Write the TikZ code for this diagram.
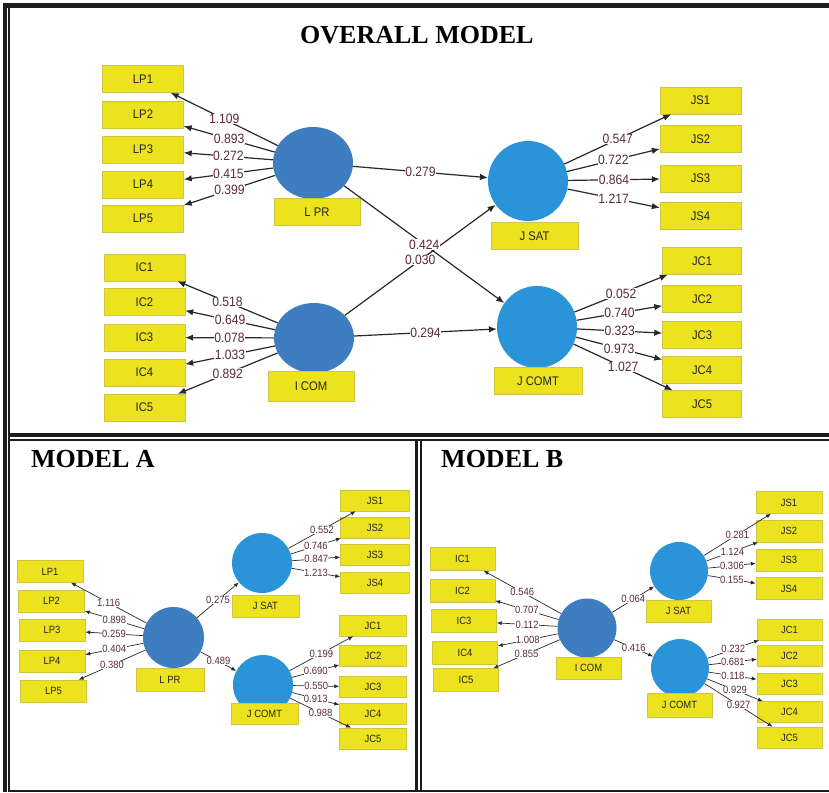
\documentclass[tikz,border=0pt]{standalone}
\usepackage{fontspec}
\setmainfont{Liberation Serif}
\newfontfamily\lblfont[FakeStretch=0.9]{Liberation Sans}
\usetikzlibrary{arrows.meta,shapes.geometric}
\definecolor{boxyel}{RGB}{236,226,30}
\definecolor{boxedge}{RGB}{208,198,70}
\definecolor{latdark}{RGB}{62,126,192}
\definecolor{latlight}{RGB}{43,147,216}
\definecolor{coef}{RGB}{92,42,62}
\definecolor{linec}{RGB}{40,40,40}
\definecolor{framec}{RGB}{28,28,28}
\tikzset{
  ind/.style={rectangle, fill=boxyel, draw=boxedge, line width=0.4pt, inner sep=0pt, text=black!85},
  indT/.style={ind, minimum width=81pt, minimum height=27pt, font=\lblfont\fontsize{12.5}{14}\selectfont},
  indS/.style={ind, minimum width=66pt, minimum height=22pt, font=\lblfont\fontsize{10.5}{12}\selectfont},
  latD/.style={ellipse, fill=latdark, inner sep=0pt},
  latL/.style={ellipse, fill=latlight, inner sep=0pt},
  arrT/.style={draw=linec, line width=1.2pt, -{Latex[length=8pt,width=6.5pt]}},
  arrS/.style={draw=linec, line width=0.7pt, -{Latex[length=5pt,width=4pt]}},
  labT/.style={midway, fill=white, inner sep=0.5pt, text=coef, font=\lblfont\fontsize{13.5}{14}\selectfont},
  labS/.style={midway, fill=white, inner sep=0.4pt, text=coef, font=\lblfont\fontsize{10.5}{12}\selectfont},
  ttl/.style={font=\bfseries\fontsize{26}{28}\selectfont, inner sep=0pt, anchor=base west},
}
\begin{document}
\begin{tikzpicture}[x=1pt,y=-1pt]
\useasboundingbox (0,0) rectangle (829,792);
% ---------- frame ----------
\fill[framec] (3.3,3.3) rectangle (7.3,792);
\fill[framec] (3.3,3.3) rectangle (829,8.3);
\fill[framec] (8.3,8.3) rectangle (10.4,792);
\fill[framec] (10.4,433) rectangle (829,437);
\fill[framec] (10.4,439) rectangle (829,441);
\fill[framec] (415,441) rectangle (417.5,792);
\fill[framec] (420,441) rectangle (422,792);
\fill[framec] (10.4,789.5) rectangle (829,792);
% ---------- titles ----------
\node[ttl] (t0) at (300,44) {OVERALL MODEL};
\node[ttl] (tA) at (31,467) {MODEL A};
\node[ttl] (tB) at (441,467) {MODEL B};
% ================= OVERALL MODEL =================
\node[latD,minimum width=80pt,minimum height=72pt] (LPR) at (313,163) {};
\node[latD,minimum width=80pt,minimum height=70pt] (ICOM) at (314,338) {};
\node[latL,minimum width=80pt,minimum height=80pt] (JSAT) at (528,181) {};
\node[latL,minimum width=80pt,minimum height=82pt] (JCOMT) at (537,327) {};
\node[indT,minimum width=86pt] (LPRb) at (317,212) {L PR};
\node[indT,minimum width=86pt,minimum height=30pt] (ICOMb) at (311,386.5) {I COM};
\node[indT,minimum width=87pt] (JSATb) at (534.5,236) {J SAT};
\node[indT,minimum width=88pt] (JCOMTb) at (538,381) {J COMT};
\foreach \i/\y in {1/79,2/114.5,3/149.5,4/184.5,5/218.5}
  \node[indT] (LP\i) at (143,\y) {LP\i};
\foreach \i/\y in {1/267.5,2/302,3/337.5,4/372.5,5/407.5}
  \node[indT] (IC\i) at (144.5,\y) {IC\i};
\foreach \i/\y in {1/100.5,2/139,3/178.5,4/216}
  \node[indT] (JS\i) at (700.5,\y) {JS\i};
\foreach \i/\y in {1/261,2/299,3/335,4/370,5/404}
  \node[indT,minimum width=79pt] (JC\i) at (702,\y) {JC\i};
\foreach \i/\v in {1/1.109,2/0.893,3/0.272,4/0.415,5/0.399}
  \draw[arrT] (LPR) -- (LP\i) node[labT] {\v};
\foreach \i/\v in {1/0.518,2/0.649,3/0.078,4/1.033,5/0.892}
  \draw[arrT] (ICOM) -- (IC\i) node[labT] {\v};
\foreach \i/\v in {1/0.547,2/0.722,3/0.864,4/1.217}
  \draw[arrT] (JSAT) -- (JS\i) node[labT] {\v};
\foreach \i/\v in {1/0.052,2/0.740,3/0.323,4/0.973,5/1.027}
  \draw[arrT] (JCOMT) -- (JC\i) node[labT] {\v};
\draw[arrT] (LPR) -- (JSAT) node[labT] {0.279};
\draw[arrT] (ICOM) -- (JCOMT) node[labT] {0.294};
\draw[arrT] (ICOM) -- (JSAT) node[labT] {0.030};
\draw[arrT] (LPR) -- (JCOMT) node[labT] {0.424};
% ================= MODEL A =================
\node[latD,minimum size=61pt] (aLPR) at (173.5,637.5) {};
\node[latL,minimum size=60pt] (aJSAT) at (262,563) {};
\node[latL,minimum size=60pt] (aJCOMT) at (263,685) {};
\node[indS,minimum width=68pt,minimum height=23pt] (aLPRb) at (170,679.5) {L PR};
\node[indS,minimum width=67pt] (aJSATb) at (265.5,606) {J SAT};
\node[indS,minimum width=67pt,minimum height=21pt] (aJCOMTb) at (264.5,713.5) {J COMT};
\foreach \i/\x/\y in {1/50/571.5,2/51.5/601,3/52/630,4/52/661,5/53.5/691}
  \node[indS] (aLP\i) at (\x,\y) {LP\i};
\foreach \i/\y in {1/500.5,2/527.5,3/554.5,4/583}
  \node[indS,minimum width=69pt,minimum height=21pt] (aJS\i) at (375,\y) {JS\i};
\foreach \i/\y in {1/625.5,2/656,3/687,4/713.5,5/738.5}
  \node[indS,minimum width=67pt,minimum height=21pt] (aJC\i) at (373,\y) {JC\i};
\foreach \i/\v in {1/1.116,2/0.898,3/0.259,4/0.404,5/0.380}
  \draw[arrS] (aLPR) -- (aLP\i) node[labS] {\v};
\foreach \i/\v in {1/0.552,2/0.746,3/0.847,4/1.213}
  \draw[arrS] (aJSAT) -- (aJS\i) node[labS] {\v};
\foreach \i/\v in {1/0.199,2/0.690,3/0.550,4/0.913,5/0.988}
  \draw[arrS] (aJCOMT) -- (aJC\i) node[labS] {\v};
\draw[arrS] (aLPR) -- (aJSAT) node[labS] {0.275};
\draw[arrS] (aLPR) -- (aJCOMT) node[labS] {0.489};
% ================= MODEL B =================
\node[latD,minimum size=59pt] (bICOM) at (587,628) {};
\node[latL,minimum size=58pt] (bJSAT) at (679,571) {};
\node[latL,minimum size=58pt] (bJCOMT) at (680,668) {};
\node[indS,minimum width=65pt] (bICOMb) at (588.5,668) {I COM};
\node[indS,minimum width=65pt] (bJSATb) at (678.5,611) {J SAT};
\node[indS,minimum width=65pt,minimum height=24pt] (bJCOMTb) at (679.5,705) {J COMT};
\foreach \i/\x/\y in {1/462.5/559,2/462.5/591,3/464/621,4/465/652.5,5/466/680}
  \node[indS,minimum width=65pt,minimum height=23pt] (bIC\i) at (\x,\y) {IC\i};
\foreach \i/\y in {1/502.5,2/531,3/560,4/588.5}
  \node[indS,minimum height=22pt] (bJS\i) at (789,\y) {JS\i};
\foreach \i/\y in {1/629.5,2/655.5,3/684,4/712,5/737.5}
  \node[indS,minimum width=65pt,minimum height=21pt] (bJC\i) at (789.5,\y) {JC\i};
\foreach \i/\v in {1/0.546,2/0.707,3/0.112,4/1.008,5/0.855}
  \draw[arrS] (bICOM) -- (bIC\i) node[labS] {\v};
\foreach \i/\v in {1/0.281,2/1.124,3/0.306,4/0.155}
  \draw[arrS] (bJSAT) -- (bJS\i) node[labS] {\v};
\foreach \i/\v in {1/0.232,2/0.681,3/0.118,4/0.929,5/0.927}
  \draw[arrS] (bJCOMT) -- (bJC\i) node[labS] {\v};
\draw[arrS] (bICOM) -- (bJSAT) node[labS] {0.064};
\draw[arrS] (bICOM) -- (bJCOMT) node[labS] {0.416};
\end{tikzpicture}
\end{document}
